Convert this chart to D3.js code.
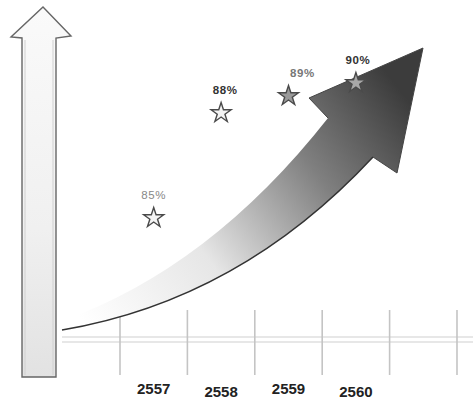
<!DOCTYPE html>
<html>
<head>
<meta charset="utf-8">
<script src="https://cdn.jsdelivr.net/npm/d3@7"></script>
<style>
  body { margin: 0; background: #fff; }
  svg { display: block; }
  .year { font-family: "Liberation Sans", Arial, sans-serif; font-weight: bold; font-size: 15px; fill: #222; }
  .pct { font-family: "Liberation Sans", Arial, sans-serif; font-weight: bold; font-size: 11.5px; letter-spacing: 0.6px; }
</style>
</head>
<body>
<div id="chart"></div>
<script>
const years = ["2557", "2558", "2559", "2560"];
const values = [85, 88, 89, 90];
const pctLabels = ["85%", "88%", "89%", "90%"];

const width = 473, height = 403;

const svg = d3.select("#chart").append("svg")
  .attr("width", width)
  .attr("height", height);

const defs = svg.append("defs");

// gradient for the big curved arrow
const grad = defs.append("linearGradient")
  .attr("id", "curveGrad")
  .attr("gradientUnits", "userSpaceOnUse")
  .attr("x1", 90).attr("y1", 330).attr("x2", 400).attr("y2", 90);
grad.append("stop").attr("offset", "0%").attr("stop-color", "#ffffff");
grad.append("stop").attr("offset", "35%").attr("stop-color", "#e6e6e6");
grad.append("stop").attr("offset", "70%").attr("stop-color", "#808080");
grad.append("stop").attr("offset", "100%").attr("stop-color", "#3c3c3c");

const shaftGrad = defs.append("linearGradient")
  .attr("id", "shaftGrad")
  .attr("x1", 0).attr("y1", 0).attr("x2", 0).attr("y2", 1);
shaftGrad.append("stop").attr("offset", "0%").attr("stop-color", "#fafafa");
shaftGrad.append("stop").attr("offset", "60%").attr("stop-color", "#f0f0f0");
shaftGrad.append("stop").attr("offset", "100%").attr("stop-color", "#e2e2e2");

// scales
const tickIdx = d3.range(6);
const xTick = d3.scaleLinear().domain([0, 5]).range([120, 457]);
const x = d3.scaleBand().domain(years).range([xTick(0), xTick(4)]);
const y = d3.scaleLinear().domain([85, 88, 89, 90]).range([218, 113, 96, 83]);

// horizontal axis (double faint line)
const axisG = svg.append("g").attr("class", "axis");
[337, 342].forEach(yy => {
  axisG.append("line")
    .attr("x1", 62).attr("x2", width)
    .attr("y1", yy).attr("y2", yy)
    .attr("stroke", "#cfcfcf").attr("stroke-width", 1.2);
});

axisG.selectAll("line.tick")
  .data(tickIdx)
  .join("line")
  .attr("class", "tick")
  .attr("x1", d => xTick(d)).attr("x2", d => xTick(d))
  .attr("y1", 310).attr("y2", 375)
  .attr("stroke", "#c4c4c4")
  .attr("stroke-width", 1.6);

axisG.selectAll("text.year")
  .data(years)
  .join("text")
  .attr("class", "year")
  .attr("x", d => x(d) + x.bandwidth() / 2)
  .attr("y", (d, i) => 394 + (i % 2) * 3)
  .attr("text-anchor", "middle")
  .text(d => d);

// vertical arrow on the left
const vPath = d3.path();
vPath.moveTo(22, 377);
vPath.lineTo(22, 38);
vPath.lineTo(11, 37);
vPath.lineTo(43, 7);
vPath.lineTo(71, 36);
vPath.lineTo(56, 38);
vPath.lineTo(56, 377);
vPath.closePath();
svg.append("path")
  .attr("d", vPath.toString())
  .attr("fill", "url(#shaftGrad)")
  .attr("stroke", "#666")
  .attr("stroke-width", 1.4);
// inner highlight lines on shaft
[25, 53].forEach(xx => {
  svg.append("line")
    .attr("x1", xx).attr("x2", xx)
    .attr("y1", 40).attr("y2", 375)
    .attr("stroke", "#d0d0d0").attr("stroke-width", 1);
});

// curved arrow
const cPath = d3.path();
cPath.moveTo(62, 330);
cPath.quadraticCurveTo(240, 300, 373, 157);
cPath.lineTo(397, 173);
cPath.lineTo(423, 48);
cPath.lineTo(309, 98);
cPath.lineTo(328, 118);
cPath.quadraticCurveTo(210, 268, 62, 321);
cPath.closePath();
svg.append("path")
  .attr("d", cPath.toString())
  .attr("fill", "url(#curveGrad)")
  .attr("stroke", "none");

// dark lower edge
const edge = d3.path();
edge.moveTo(62, 330);
edge.quadraticCurveTo(240, 300, 373, 157);
svg.append("path")
  .attr("d", edge.toString())
  .attr("fill", "none")
  .attr("stroke", "#333")
  .attr("stroke-width", 1.5);

const head = d3.path();
head.moveTo(373, 157);
head.lineTo(397, 173);
head.lineTo(423, 48);
head.lineTo(309, 98);
head.lineTo(328, 118);
svg.append("path")
  .attr("d", head.toString())
  .attr("fill", "none")
  .attr("stroke", "#444")
  .attr("stroke-width", 1);

// stars
const starFill = ["#f4f4f4", "#f4f4f4", "#9a9a9a", "#a8a8a8"];
const labelFill = ["#888", "#333", "#777", "#333"];
const labelDx = [0, 4, 14, 2];
const star = d3.symbol().type(d3.symbolStar).size(125);

const pts = years.map((yr, i) => ({ year: yr, value: values[i], label: pctLabels[i], i }));

svg.selectAll("path.star")
  .data(pts)
  .join("path")
  .attr("class", "star")
  .attr("d", star)
  .attr("transform", d => `translate(${x(d.year) + x.bandwidth() / 2},${y(d.value)})`)
  .attr("fill", d => starFill[d.i])
  .attr("stroke", "#4a4a4a")
  .attr("stroke-width", 1.4)
  .attr("stroke-linejoin", "miter");

svg.selectAll("text.pct")
  .data(pts)
  .join("text")
  .attr("class", "pct")
  .attr("x", d => x(d.year) + x.bandwidth() / 2 + labelDx[d.i])
  .attr("y", d => y(d.value) - 19)
  .attr("text-anchor", "middle")
  .attr("fill", d => labelFill[d.i])
  .style("font-weight", d => d.i === 0 ? "normal" : "bold")
  .text(d => d.label);
</script>
</body>
</html>
